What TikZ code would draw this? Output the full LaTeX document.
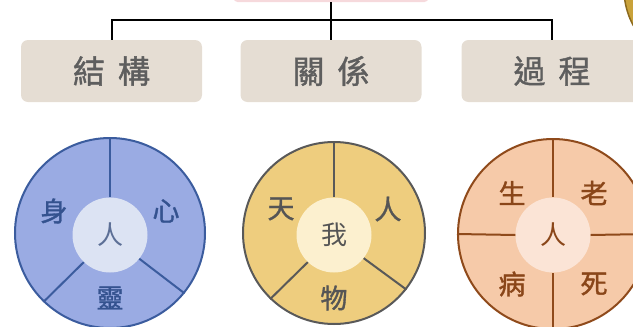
\documentclass[tikz,border=0pt]{standalone}
\usepackage{fontspec}
\newfontfamily\cjk{Noto Sans CJK TC}
\newfontfamily\cjkb[FakeBold=1.3]{Noto Sans CJK TC}
\definecolor{boxfill}{HTML}{E5DDD3}
\definecolor{boxtext}{HTML}{5E5E5E}
\definecolor{rootpink}{HTML}{F6D9DC}
\definecolor{bluefill}{HTML}{9AABE3}
\definecolor{blueline}{HTML}{3B5C9E}
\definecolor{bluetext}{HTML}{34528F}
\definecolor{blueinner}{HTML}{DCE3F3}
\definecolor{bluecenter}{HTML}{5C6F96}
\definecolor{goldfill}{HTML}{EECD7E}
\definecolor{grayline}{HTML}{595959}
\definecolor{graytext}{HTML}{555555}
\definecolor{goldinner}{HTML}{FCF0CF}
\definecolor{peachfill}{HTML}{F6CAA9}
\definecolor{brownline}{HTML}{8F4A1B}
\definecolor{browntext}{HTML}{8A4619}
\definecolor{peachinner}{HTML}{FBE4D6}
\definecolor{coin}{HTML}{C9A23A}
\definecolor{coinedge}{HTML}{8C6A1E}
\tikzset{
  header/.style={draw=none, fill=boxfill, rounded corners=7pt, minimum width=181pt, minimum height=62pt, inner sep=0pt, font=\cjkb\fontsize{32}{32}\selectfont, text=boxtext},
  wheel/.style={circle, inner sep=0pt, line width=2pt},
  hub/.style={circle, inner sep=0pt, minimum size=75pt, draw=none, font=\cjk\fontsize{26}{26}\selectfont},
  lab/.style={inner sep=0pt, font=\cjkb\fontsize{27}{27}\selectfont},
  tree/.style={line width=2pt, black},
}
\begin{document}
\begin{tikzpicture}[x=1pt,y=-1pt]
\useasboundingbox (0,0) rectangle (633,327);
\begin{scope}
\clip (0,0) rectangle (633,327);
% decorative coin top right
\node[circle, minimum size=152pt, inner sep=0pt, fill=coin, draw=coinedge, line width=1.5pt] (coinnode) at (700,-11) {};
% root box (bottom edge visible)
\node[fill=rootpink, rounded corners=4pt, minimum width=195pt, minimum height=22pt, inner sep=0pt] (root) at (331,-9) {};
% headers
\node[header] (h1) at (111.5,71) {結\hspace{13pt}構};
\node[header] (h2) at (331,71) {關\hspace{13pt}係};
\node[header] (h3) at (552,71) {過\hspace{13pt}程};
\coordinate (bar) at (331,20);
\draw[tree] (root.south) -- (h2.north);
\draw[tree] (h1.north) |- (bar) -| (h3.north);
% wheel 1
\node[wheel, minimum size=190pt, fill=bluefill, draw=blueline] (w1) at (110,233) {};
\node[hub, fill=blueinner, text=bluecenter] (c1) at (110,235) {人};
\draw[blueline, line width=2pt] (w1.90) -- (c1.90);
\draw[blueline, line width=2pt] (w1.226) -- (c1.226);
\draw[blueline, line width=2pt] (w1.321) -- (c1.321);
\node[lab, text=bluetext] (l11) at (54,211) {身};
\node[lab, text=bluetext] (l12) at (166,211) {心};
\node[lab, text=bluetext] (l13) at (110,298) {靈};
% wheel 2
\node[wheel, minimum size=182pt, fill=goldfill, draw=grayline] (w2) at (334,233) {};
\node[hub, fill=goldinner, text=graytext] (c2) at (334,235) {我};
\draw[grayline, line width=2pt] (w2.90) -- (c2.90);
\draw[grayline, line width=2pt] (w2.226) -- (c2.226);
\draw[grayline, line width=2pt] (w2.322) -- (c2.322);
\node[lab, text=graytext] (l21) at (281,209) {天};
\node[lab, text=graytext] (l22) at (388,209) {人};
\node[lab, text=graytext] (l23) at (334,298) {物};
% wheel 3
\node[wheel, minimum size=190pt, fill=peachfill, draw=brownline] (w3) at (553,234) {};
\node[hub, fill=peachinner, text=browntext] (c3) at (553,235) {人};
\draw[brownline, line width=2pt] (w3.90) -- (c3.90);
\draw[brownline, line width=2pt] (w3.180) -- (c3.180);
\draw[brownline, line width=2pt] (w3.0) -- (c3.0);
\draw[brownline, line width=2pt] (w3.270) -- (c3.270);
\node[lab, text=browntext] (l31) at (512,193) {生};
\node[lab, text=browntext] (l32) at (594,193) {老};
\node[lab, text=browntext] (l33) at (512,284) {病};
\node[lab, text=browntext] (l34) at (594,284) {死};
\end{scope}
\end{tikzpicture}
\end{document}
